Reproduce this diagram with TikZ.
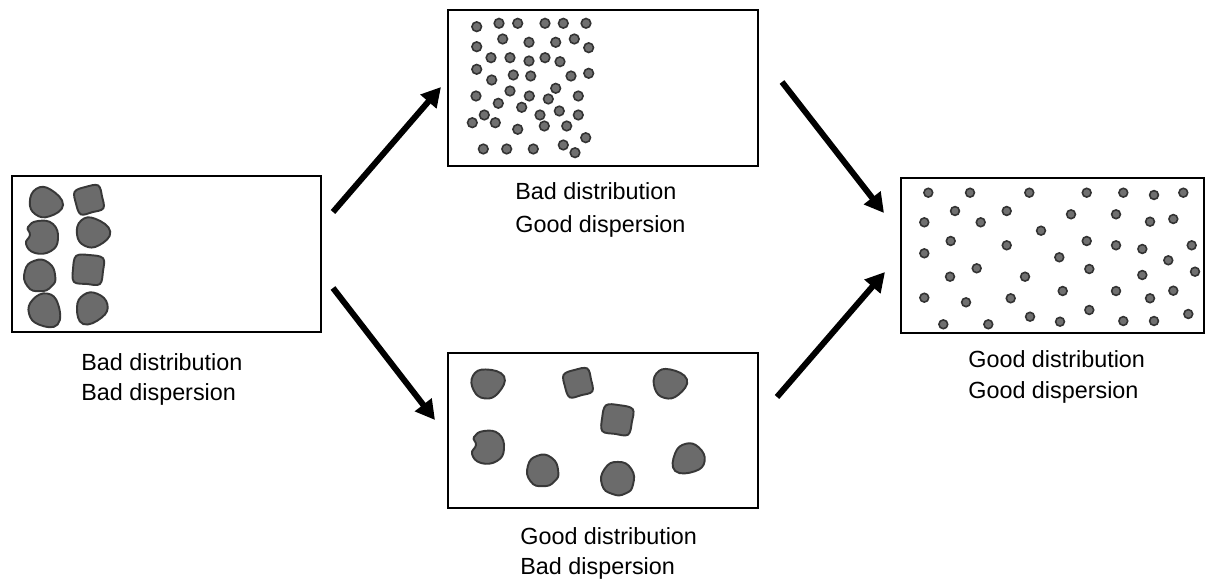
\documentclass[tikz,border=0pt]{standalone}
\usepackage{fontspec}
\setmainfont{Liberation Sans}
\usetikzlibrary{arrows.meta}
\definecolor{blobfill}{HTML}{6B6B6B}
\definecolor{blobline}{HTML}{383838}
\definecolor{dotfill}{HTML}{707070}
\definecolor{dotline}{HTML}{333333}
\tikzset{
  panel/.style={draw=black, line width=1.6pt, inner sep=0pt, outer sep=0pt, fill=white},
  blobsty/.style={fill=blobfill, draw=blobline, line width=1.1pt},
  dotsty/.style={fill=dotfill, draw=dotline, line width=0.9pt},
  bigarrow/.style={line width=3.4pt, -{Triangle[length=11pt,width=11.5pt]}},
  lbl/.style={anchor=base west, inner sep=0pt, font=\fontsize{13.3}{16}\selectfont}
}
\newcommand\bround[4]{\draw[blobsty,shift={(#1,#2)},rotate=#3,scale=#4] plot[smooth cycle,tension=0.9] coordinates {(16,0) (9,-14) (-6,-16) (-16,-5) (-13,11) (0,16) (12,11)};}
\newcommand\bsquare[4]{\draw[blobsty,shift={(#1,#2)},rotate=#3,scale=#4] plot[smooth cycle,tension=0.6] coordinates {(14,-13) (0,-15) (-13,-13) (-15,0) (-13,13) (0,14) (13,13) (15,0)};}
\newcommand\bkidney[4]{\draw[blobsty,shift={(#1,#2)},rotate=#3,scale=#4] plot[smooth cycle,tension=0.8] coordinates {(16,2) (11,-13) (-4,-16) (-14,-10) (-12,-2) (-16,7) (-7,16) (9,14)};}
\newcommand\bpoint[4]{\draw[blobsty,shift={(#1,#2)},rotate=#3,scale=#4] plot[smooth cycle,tension=0.8] coordinates {(19,3) (6,-13) (-9,-14) (-16,0) (-10,13) (5,15)};}
\begin{document}
\begin{tikzpicture}[x=0.02cm,y=-0.02cm]
\useasboundingbox (0,0) rectangle (1206,584);
% panels
\node[panel, minimum width=6.18cm, minimum height=3.12cm] (b1) at (166.5,254) {};
\node[panel, minimum width=6.2cm, minimum height=3.12cm] (b2) at (603,88) {};
\node[panel, minimum width=6.2cm, minimum height=3.1cm] (b3) at (603,430.5) {};
\node[panel, minimum width=6.06cm, minimum height=3.1cm] (b4) at (1052.5,255.5) {};
% panel 1 blobs
\bpoint{45}{202}{0}{0.95}
\bkidney{42}{237}{0}{1}
\bround{40}{276}{0}{0.95}
\bpoint{45}{310}{-40}{1}
\bsquare{89}{200}{15}{0.9}
\bpoint{92}{232}{10}{0.95}
\bsquare{88}{270}{-5}{1}
\bpoint{92}{308}{-110}{0.95}
% panel 3 blobs
\bpoint{487}{383}{30}{0.95}
\bsquare{578}{383}{15}{0.9}
\bpoint{669}{383}{20}{0.95}
\bsquare{617}{420}{-8}{1}
\bkidney{488}{447}{0}{1}
\bround{543}{471}{0}{0.95}
\bround{618}{479}{-20}{1}
\bpoint{689}{459}{-130}{0.95}
% panel 2 dots
\foreach \x/\y in {476.7/26.7,499/23.3,517.7/23.3,545/23.3,563.3/23.3,586/23.3,
  476.7/46.7,502.7/39,529/42.3,555.7/42.3,574.3/39,588.7/47.7,
  491/57.7,510/57.7,529/61,545/57.7,560/61.7,
  476.7/69.3,491.7/80,513.3/75,530.7/76,571/76,588.7/73.3,
  510/91,555.7/88.3,476/96,498.3/103.3,529.3/96,548.3/99,578.3/96,
  521.7/107.3,540/115,559.3/111,578.3/115,484.3/115,472.3/122.7,495.3/122.7,
  517.7/129.3,544.3/126,566.7/126,585.7/137.7,
  483.3/149,506.7/149,533.3/149,563.3/145,575/152.7}
  \draw[dotsty] (\x,\y) circle[radius=4.8];
% panel 4 dots
\foreach \x/\y in {928.3/192.7,970/192.7,1029.3/192.7,1086.7/192.7,1123.3/192.7,1154/195,1183.3/192.7,
  955/211,1006.7/211,1071/214.3,1116/214.3,1150/221.7,1173.3/219,
  924.3/222.3,980.7/222.3,1041/230.7,
  950.7/241,1006.7/245.3,1086.7/241,1116/245.3,1142.3/249,1191.7/245.3,
  924.3/253.3,1059.3/257.3,1168.3/260.3,
  976.7/268.3,950/276.7,1025/276.7,1089.3/269,1142.3/275,1195/271.7,
  924.3/297.7,966/302.3,1010.7/298.3,1062.7/291,1116/291,1150/298.3,1173.3/290.7,
  943.3/324.3,988.3/324.3,1030/316.7,1060/321.7,1089.3/310,1123.3/321,1154/321,1188.3/314}
  \draw[dotsty] (\x,\y) circle[radius=4.4];
% labels
\node[lbl] (l1a) at (81,370) {Bad distribution};
\node[lbl] (l1b) at (81,400) {Bad dispersion};
\node[lbl] (l2a) at (515,199) {Bad distribution};
\node[lbl] (l2b) at (515,233) {Good dispersion};
\node[lbl] (l3a) at (520,544) {Good distribution};
\node[lbl] (l3b) at (520,574) {Bad dispersion};
\node[lbl] (l4a) at (968,367) {Good distribution};
\node[lbl] (l4b) at (968,398) {Good dispersion};
% arrows
\coordinate (a1s) at (333,212); \coordinate (a1e) at (441,87);
\coordinate (a2s) at (333,288); \coordinate (a2e) at (435,420);
\coordinate (a3s) at (782,82);  \coordinate (a3e) at (884,213);
\coordinate (a4s) at (777,397); \coordinate (a4e) at (885,272);
\draw[bigarrow] (a1s) -- (a1e);
\draw[bigarrow] (a2s) -- (a2e);
\draw[bigarrow] (a3s) -- (a3e);
\draw[bigarrow] (a4s) -- (a4e);
\end{tikzpicture}
\end{document}
